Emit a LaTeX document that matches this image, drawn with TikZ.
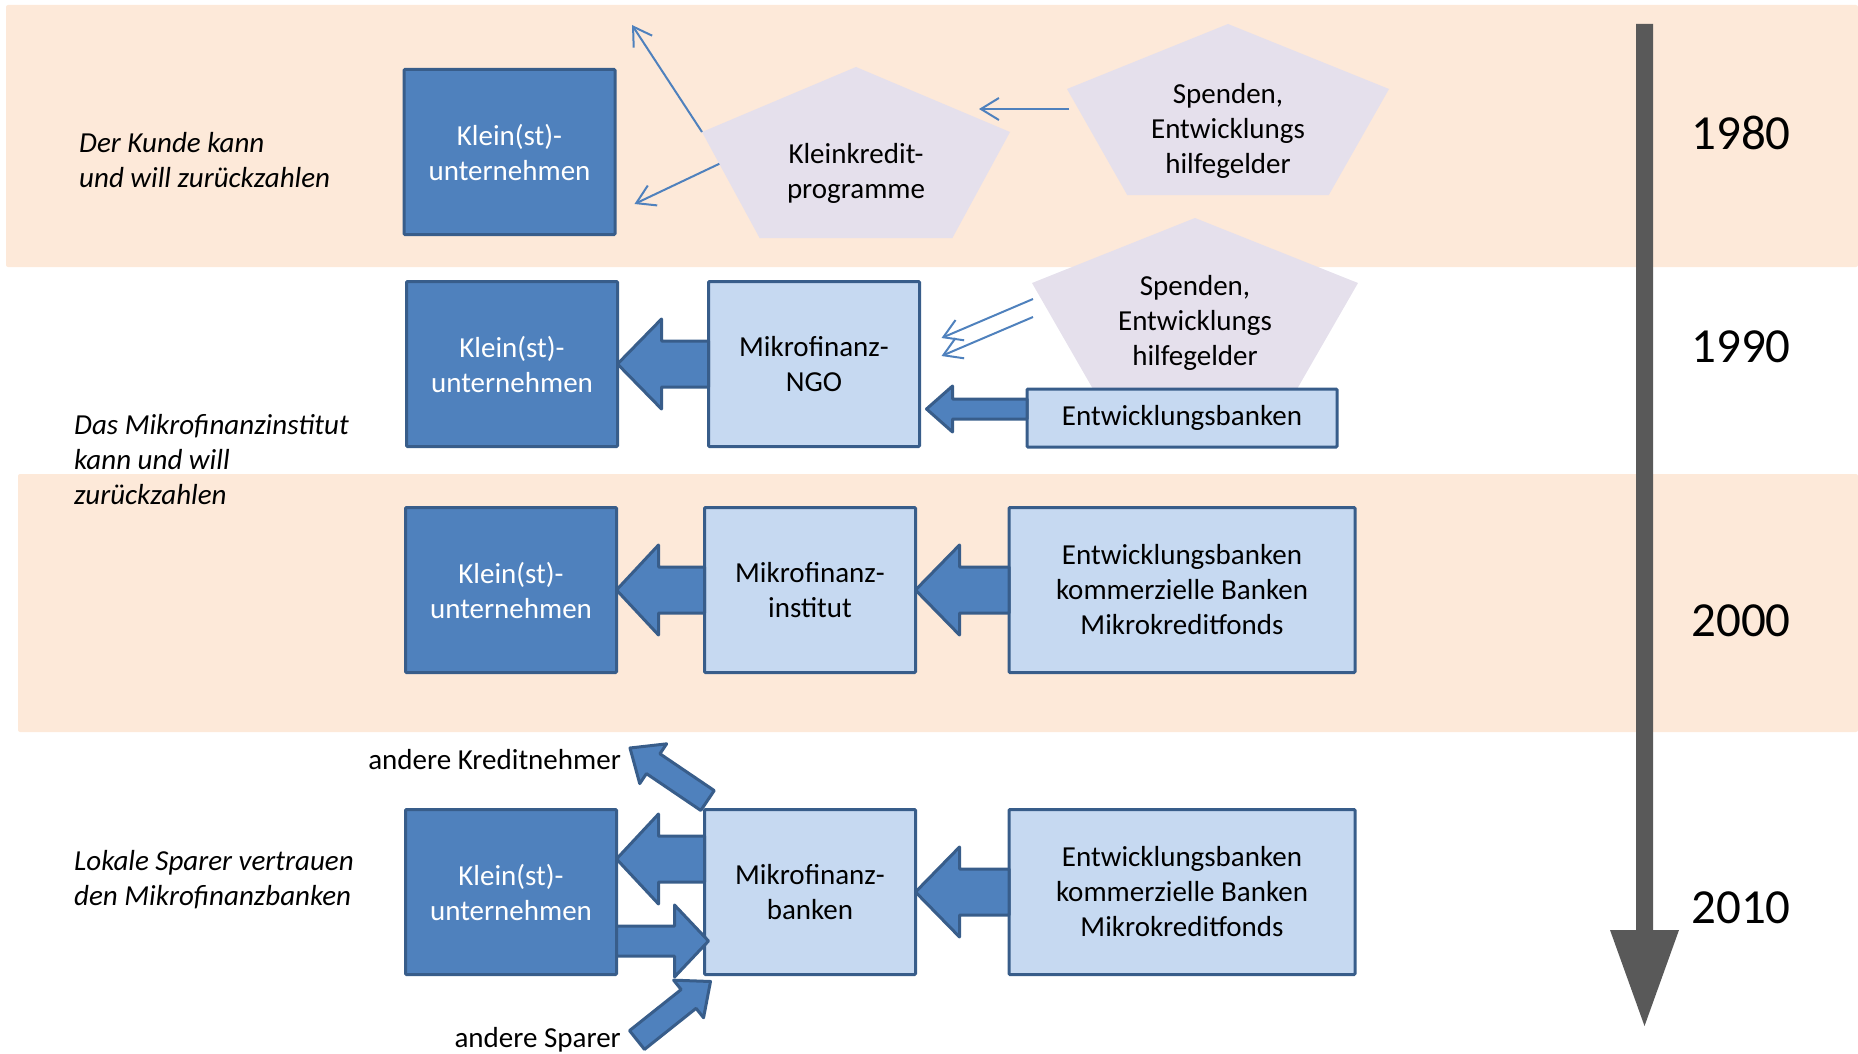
\documentclass[tikz,border=0pt]{standalone}
\usepackage{fontspec}
\setmainfont{Carlito}
\usetikzlibrary{calc,arrows.meta}

\definecolor{bandpeach}{HTML}{FDE9D9}
\definecolor{pentalila}{HTML}{E5E0EC}
\definecolor{darkblue}{HTML}{4F81BD}
\definecolor{lightblue}{HTML}{C6D9F1}
\definecolor{blueline}{HTML}{385D8A}
\definecolor{timegray}{HTML}{595959}

\newcommand{\penta}[4]{%
    \coordinate (#1-t) at (#2,#3);
    \coordinate (#1-l) at ({#2-#4/2},{#3+65});
    \coordinate (#1-r) at ({#2+#4/2},{#3+65});
    \coordinate (#1-bl) at ({#2-0.313*#4},{#3+171});
    \coordinate (#1-br) at ({#2+0.313*#4},{#3+171});
    \fill[pentafill] (#1-t) -- (#1-r) -- (#1-br) -- (#1-bl) -- (#1-l) -- cycle;
}
\newcommand{\fatarrow}[6]{%
    \path (#3) coordinate (tip) ($(#3)!#6pt!(#2)$) coordinate (hb);
    \path[#1] ($(#2)!#4pt!90:(#3)$) -- ($(hb)!#4pt!90:(tip)$) -- ($(hb)!#5pt!90:(tip)$) -- (tip)
        -- ($(hb)!#5pt!-90:(tip)$) -- ($(hb)!#4pt!-90:(tip)$) -- ($(#2)!#4pt!-90:(#3)$) -- cycle;
}

\begin{document}
\begin{tikzpicture}[x=1pt,y=-1pt,
    txt/.style={font=\fontsize{29}{35}\selectfont, align=center, inner sep=0pt},
    note/.style={font=\fontsize{29}{35}\selectfont\itshape, align=left, anchor=west, inner sep=0pt},
    year/.style={font=\fontsize{49}{58}\selectfont, inner sep=0pt},
    band/.style={fill=bandpeach, rounded corners=2pt},
    pentafill/.style={fill=pentalila},
    darkbox/.style={txt, draw=blueline, line width=3pt, fill=darkblue, text=white, outer sep=0pt,
        rounded corners=1pt, minimum width=211pt, minimum height=165pt},
    lightbox/.style={darkbox, fill=lightblue, text=black},
    fatblue/.style={draw=blueline, line width=3pt, fill=darkblue, line join=round},
    fatgray/.style={fill=timegray},
    flow/.style={draw=darkblue, line width=2pt, -{Straight Barb[length=18pt,width=22pt]}}]
    \useasboundingbox (0,0) rectangle (1858,1054);
    \fill[band] (6,5) rectangle (1858,267);
    \fill[band] (18,474) rectangle (1858,732);

    \penta{p1}{856}{67}{308}
    \penta{p2}{1228}{24}{322}
    \penta{p3}{1195}{218}{326}

    \node[darkbox] (kl1) at (509.5,152) {Klein(st)-\\unternehmen};
    \node[darkbox] (kl2) at (512,364) {Klein(st)-\\unternehmen};
    \node[lightbox] (ngo) at (814,364) {Mikrofinanz-\\NGO};
    \node[lightbox, minimum width=310pt, minimum height=58pt] (eb2) at (1182,418) {Entwicklungsbanken};
    \node[darkbox] (kl3) at (511,590) {Klein(st)-\\unternehmen};
    \node[lightbox] (mfi) at (810,590) {Mikrofinanz-\\institut};
    \node[lightbox, minimum width=346pt] (eb3) at (1182,590) {Entwicklungsbanken\\kommerzielle Banken\\Mikrokreditfonds};
    \node[darkbox] (kl4) at (511,892) {Klein(st)-\\unternehmen};
    \node[lightbox] (mfb) at (810,892) {Mikrofinanz-\\banken};
    \node[lightbox, minimum width=346pt] (eb4) at (1182,892) {Entwicklungsbanken\\kommerzielle Banken\\Mikrokreditfonds};

    \node[txt] (kkp) at (856,173) {Kleinkredit-\\programme};
    \node[txt] (sp1) at (1228,131) {Spenden,\\Entwicklungs\\hilfegelder};
    \node[txt] (sp2) at (1195,323) {Spenden,\\Entwicklungs\\hilfegelder};

    \node[note] (n80) at (79,160) {Der Kunde kann\\und will zurückzahlen};
    \node[note] (n90) at (74,460) {Das Mikrofinanzinstitut\\kann und will\\zurückzahlen};
    \node[note] (n10) at (74,880) {Lokale Sparer vertrauen\\den Mikrofinanzbanken};

    \node[year] (y80) at (1741,133) {1980};
    \node[year] (y90) at (1741,347) {1990};
    \node[year] (y00) at (1741,621) {2000};
    \node[year] (y10) at (1741,908) {2010};

    \node[txt, anchor=east] (akn) at (621,760) {andere Kreditnehmer};
    \node[txt, anchor=east] (asp) at (621,1040) {andere Sparer};

    \coordinate (up) at (632,25);
    \draw[flow] (p1-l) -- (up);
    \draw[flow] ($(p1-l)!0.3!(p1-bl)$) -- ($(kl1.east)+(19.5,52)$);
    \draw[flow] ($(p2-l)+(2,20)$) -- ($(p1-r)+(-31,-23)$);
    \draw[flow] ($(p3-l)+(1,16)$) -- ($(ngo.east)+(22,-26)$);
    \draw[flow] ($(p3-l)+(1,34)$) -- ($(ngo.east)+(22,-8)$);

    \coordinate (e2) at ($(eb2.west)+(0,-9)$);
    \coordinate (n2) at ($(ngo.east |- e2)+(7,0)$);
    \fatarrow{fatblue}{ngo.west}{kl2.east}{23}{45}{44}
    \fatarrow{fatblue}{e2}{n2}{10}{23}{26}
    \fatarrow{fatblue}{mfi.west}{kl3.east}{23}{45}{42}
    \fatarrow{fatblue}{eb3.west}{mfi.east}{23}{45}{44}
    \coordinate (m4a) at ($(mfb.west)+(0,-33)$);
    \coordinate (k4a) at ($(kl4.east)+(0,-33)$);
    \fatarrow{fatblue}{m4a}{k4a}{23}{45}{42}
    \coordinate (k4b) at ($(kl4.east)+(0,49)$);
    \coordinate (m4b) at ($(mfb.west)+(4,49)$);
    \fatarrow{fatblue}{k4b}{m4b}{15}{36}{34}
    \fatarrow{fatblue}{eb4.west}{mfb.east}{23}{45}{44}
    \coordinate (kn) at ($(akn.east)+(9,-12)$);
    \coordinate (kt) at ($(mfb.north west)+(3,-9)$);
    \fatarrow{fatblue}{kt}{kn}{12}{24}{28}
    \coordinate (sp) at ($(asp.east)+(16,0)$);
    \coordinate (st) at ($(mfb.south west)+(6,7)$);
    \fatarrow{fatblue}{sp}{st}{12}{24}{28}

    \coordinate (t0) at (1644.5,24);
    \coordinate (t1) at (1644.5,1026);
    \fatarrow{fatgray}{t0}{t1}{8.5}{34.5}{96}
\end{tikzpicture}
\end{document}
